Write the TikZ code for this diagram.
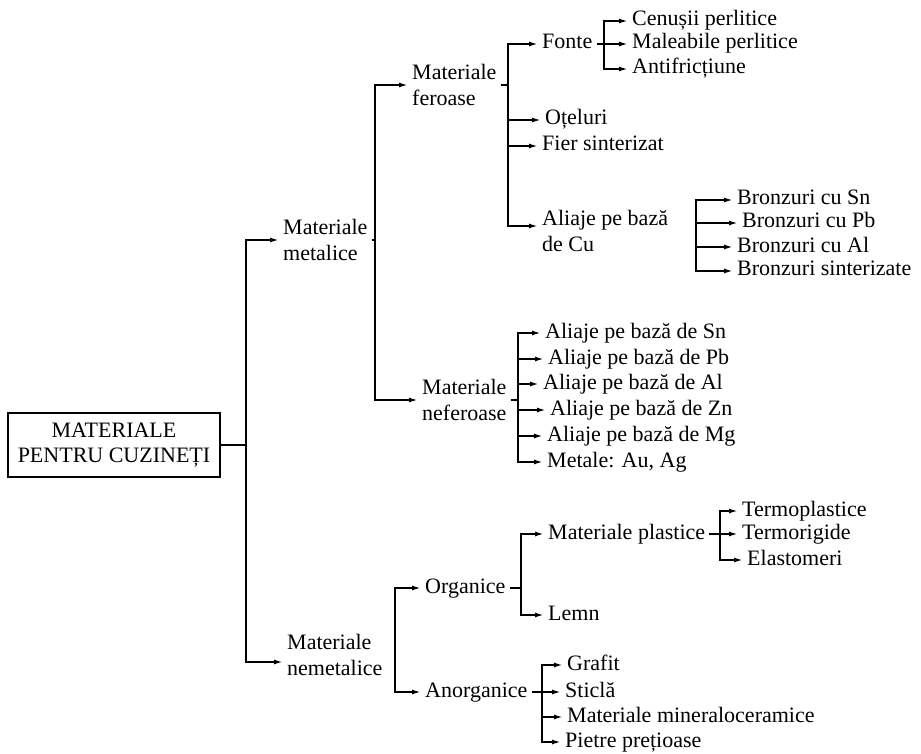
\documentclass[tikz,border=0pt]{standalone}
\usepackage{fontspec}
\setmainfont{Liberation Serif}
\usetikzlibrary{arrows.meta}
\begin{document}
\begin{tikzpicture}[x=1pt,y=-1pt,
  every node/.style={font=\fontsize{22}{25.5}\selectfont, inner xsep=4pt, inner ysep=1pt},
  leaf/.style={anchor=west, text height=14pt, text depth=4pt},
  multi/.style={anchor=west, align=left},
  rootbox/.style={draw, line width=1.4pt, minimum width=212pt, minimum height=64pt, align=center, font=\fontsize{22}{25}\selectfont},
  ln/.style={line width=1.7pt},
  arr/.style={line width=1.7pt, -{Latex[length=9pt,width=5pt]}}]
\useasboundingbox (0,0) rectangle (921,754);
% trunk x positions
\coordinate (t1) at (246,0);
\coordinate (t2) at (375,0);
\coordinate (t3) at (508,0);
\coordinate (t4) at (604,0);
\coordinate (t5) at (696,0);
\coordinate (t6) at (518,0);
\coordinate (t7) at (395,0);
\coordinate (t8) at (521,0);
\coordinate (t9) at (720,0);
\coordinate (t10) at (542,0);
% nodes
\node[rootbox] (root) at (114,445) {MATERIALE\\PENTRU CUZINEȚI};
\node[multi] (met) at (279,240) {Materiale\\metalice};
\node[multi] (nemet) at (283,655) {Materiale\\nemetalice};
\node[multi] (fer) at (408,85) {Materiale\\feroase};
\node[multi] (nefer) at (418,400) {Materiale\\neferoase};
\node[leaf] (fonte) at (538,44) {Fonte};
\node[leaf] (ot) at (541,120) {Oțeluri};
\node[leaf] (fier) at (538,146) {Fier sinterizat};
\node[multi] (cu) at (538,231) {Aliaje pe bază\\de Cu};
\node[leaf] (cen) at (628,21) {Cenușii perlitice};
\node[leaf] (mal) at (628,44) {Maleabile perlitice};
\node[leaf] (anti) at (628,69) {Antifricțiune};
\node[leaf] (bsn) at (733,200) {Bronzuri cu Sn};
\node[leaf] (bpb) at (738,223) {Bronzuri cu Pb};
\node[leaf] (bal) at (733,247) {Bronzuri cu Al};
\node[leaf] (bsint) at (733,271) {Bronzuri sinterizate};
\node[leaf] (sn) at (541,333) {Aliaje pe bază de Sn};
\node[leaf] (pb) at (544,359) {Aliaje pe bază de Pb};
\node[leaf] (al) at (539,384) {Aliaje pe bază de Al};
\node[leaf] (zn) at (546,410) {Aliaje pe bază de Zn};
\node[leaf] (mg) at (543,436) {Aliaje pe bază de Mg};
\node[leaf] (metale) at (543,462) {Metale: Au, Ag};
\node[leaf] (org) at (421,588) {Organice};
\node[leaf] (anorg) at (421,692) {Anorganice};
\node[leaf] (plast) at (544,534) {Materiale plastice};
\node[leaf] (lemn) at (544,615) {Lemn};
\node[leaf] (tplast) at (738,511) {Termoplastice};
\node[leaf] (rig) at (738,534) {Termorigide};
\node[leaf] (elast) at (743,560) {Elastomeri};
\node[leaf] (grafit) at (563,665) {Grafit};
\node[leaf] (sticla) at (561,692) {Sticlă};
\node[leaf] (miner) at (563,717) {Materiale mineraloceramice};
\node[leaf] (pietre) at (561,742) {Pietre prețioase};
% root
\draw[ln] (root.east) -- (t1 |- root.east);
\draw[arr] (t1 |- root.east) |- (met.west);
\draw[arr] (t1 |- root.east) |- ([yshift=-7pt]nemet.west);
% metalice
\draw[ln] (met.east) -- (t2 |- met.east);
\draw[arr] (t2 |- met.east) |- (fer.west);
\draw[arr] (t2 |- met.east) |- (nefer.west);
% feroase
\draw[ln] (fer.east) -- (t3 |- fer.east);
\draw[arr] (t3 |- fer.east) |- (fonte.west);
\draw[arr] (t3 |- fer.east) |- ([yshift=5pt]cu.west);
\draw[arr] (t3 |- ot.west) -- (ot.west);
\draw[arr] (t3 |- fier.west) -- (fier.west);
% fonte
\draw[ln] (fonte.east) -- (t4 |- fonte.east);
\draw[arr] (t4 |- mal.west) |- (cen.west);
\draw[arr] (t4 |- mal.west) |- (anti.west);
\draw[arr] (t4 |- mal.west) -- (mal.west);
% bronzuri
\draw[arr] (t5 |- bpb.west) |- (bsn.west);
\draw[arr] (t5 |- bpb.west) |- (bsint.west);
\draw[arr] (t5 |- bpb.west) -- (bpb.west);
\draw[arr] (t5 |- bal.west) -- (bal.west);
% neferoase
\draw[ln] (nefer.east) -- (t6 |- nefer.east);
\draw[arr] (t6 |- nefer.east) |- (sn.west);
\draw[arr] (t6 |- nefer.east) |- (metale.west);
\draw[arr] (t6 |- pb.west) -- (pb.west);
\draw[arr] (t6 |- al.west) -- (al.west);
\draw[arr] (t6 |- zn.west) -- (zn.west);
\draw[arr] (t6 |- mg.west) -- (mg.west);
% nemetalice
\draw[arr] (t7 |- nemet.west) |- (org.west);
\draw[arr] (t7 |- nemet.west) |- (anorg.west);
% organice
\draw[ln] (org.east) -- (t8 |- org.east);
\draw[arr] (t8 |- org.east) |- (plast.west);
\draw[arr] (t8 |- org.east) |- (lemn.west);
% plastice
\draw[ln] (plast.east) -- (t9 |- plast.east);
\draw[arr] (t9 |- plast.east) |- (tplast.west);
\draw[arr] (t9 |- plast.east) |- (elast.west);
\draw[arr] (t9 |- rig.west) -- (rig.west);
% anorganice
\draw[ln] (anorg.east) -- (t10 |- anorg.east);
\draw[arr] (t10 |- anorg.east) |- (grafit.west);
\draw[arr] (t10 |- anorg.east) |- (pietre.west);
\draw[arr] (t10 |- sticla.west) -- (sticla.west);
\draw[arr] (t10 |- miner.west) -- (miner.west);
\end{tikzpicture}
\end{document}
